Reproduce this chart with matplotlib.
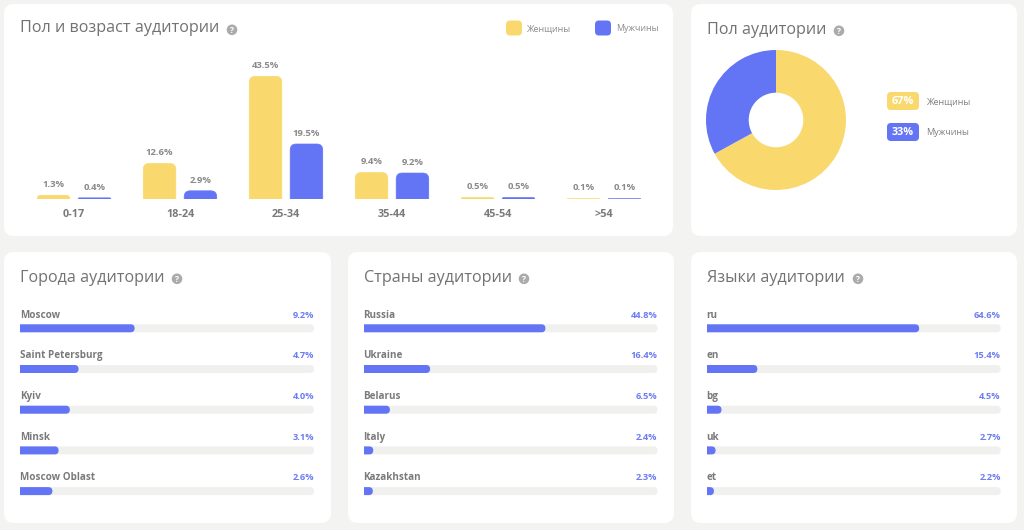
import matplotlib
matplotlib.use("Agg")
import matplotlib.pyplot as plt
from matplotlib.patches import FancyBboxPatch, Circle

plt.rcParams['font.family'] = ['Open Sans', 'DejaVu Sans']

# --- data ---
age_groups = ["0-17", "18-24", "25-34", "35-44", "45-54", ">54"]
women_pct = [1.3, 12.6, 43.5, 9.4, 0.5, 0.1]
men_pct = [0.4, 2.9, 19.5, 9.2, 0.5, 0.1]

gender_labels = ["Женщины", "Мужчины"]
gender_share = [67, 33]

cities = ["Moscow", "Saint Petersburg", "Kyiv", "Minsk", "Moscow Oblast"]
cities_pct = [9.2, 4.7, 4.0, 3.1, 2.6]

countries = ["Russia", "Ukraine", "Belarus", "Italy", "Kazakhstan"]
countries_pct = [44.8, 16.4, 6.5, 2.4, 2.3]

languages = ["ru", "en", "bg", "uk", "et"]
languages_pct = [64.6, 15.4, 4.5, 2.7, 2.2]

# --- style ---
W, H = 1024, 530
YELLOW = "#F9D96E"
BLUE = "#6374F5"
BG = "#F3F3F1"
TRACK = "#F0F0EE"
TITLE_C = "#727272"
LABEL_C = "#7A7A7A"

fig = plt.figure(figsize=(W / 100, H / 100), dpi=100)
fig.patch.set_facecolor(BG)

bg = fig.add_axes([0, 0, 1, 1])
bg.set_xlim(0, W)
bg.set_ylim(H, 0)
bg.axis("off")


def px_axes(x0, y0, x1, y1):
    # axes placed by pixel box (top-left origin)
    ax = fig.add_axes([x0 / W, 1 - y1 / H, (x1 - x0) / W, (y1 - y0) / H])
    ax.patch.set_alpha(0)
    return ax


def panel(x0, y0, x1, y1):
    bg.add_patch(FancyBboxPatch((x0, y0), x1 - x0, y1 - y0,
                                boxstyle="round,pad=0,rounding_size=10",
                                fc="white", ec="none"))


def title(x, y, text, qx):
    bg.text(x, y + 0.5, text, fontsize=11.6, color=TITLE_C, va="center", ha="left")
    bg.add_patch(Circle((qx, y + 1.8), 5.3, fc="#ABABAB", ec="none"))
    bg.text(qx, y + 2.1, "?", fontsize=6, color="white", fontweight="bold",
            ha="center", va="center")


def rounded_bars(ax, bars, r_px, px_x, px_y, horizontal=False):
    # swap each bar for a rounded one; the hidden end is pushed past the axis and clipped
    for b in bars:
        x, y, w, h = b.get_x(), b.get_y(), b.get_width(), b.get_height()
        b.remove()
        fc = b.get_facecolor()
        if horizontal:
            r = min(r_px, w * px_x) / px_x
            box = FancyBboxPatch((x - r, y), w + r, h,
                                 boxstyle=f"round,pad=0,rounding_size={r}",
                                 mutation_aspect=px_x / px_y,
                                 fc=fc, ec="none")
        else:
            r = min(r_px, h * px_y) / px_x
            ry = r * px_x / px_y
            box = FancyBboxPatch((x, y - ry), w, h + ry,
                                 boxstyle=f"round,pad=0,rounding_size={r}",
                                 mutation_aspect=px_x / px_y,
                                 fc=fc, ec=fc, lw=0.5)
        ax.add_patch(box)


# panels
panel(4, 4, 673, 236)
panel(691, 4, 1017, 236)
panel(4, 252, 331, 523)
panel(348, 252, 674, 523)
panel(691, 252, 1017, 523)

# --- age / gender bars ---
title(20, 28, "Пол и возраст аудитории", 232)
ax = px_axes(21, 58, 657, 199)
ymax = 50
ax.set_xlim(-0.5, len(age_groups) - 0.5)
ax.set_ylim(0, ymax)
px_x = (657 - 21) / len(age_groups)
px_y = (199 - 58) / ymax
xs = range(len(age_groups))
bw = 0.307
off = 0.193
wb = ax.bar([i - off for i in xs], women_pct, bw, color=YELLOW)
mb = ax.bar([i + off for i in xs], men_pct, bw, color=BLUE)
for bars, vals, sign in ((wb, women_pct, -1), (mb, men_pct, 1)):
    for i, v in enumerate(vals):
        ax.annotate(f"{v}%", (i + sign * off, v), xytext=(0, 4.5),
                    textcoords="offset points", ha="center", va="bottom",
                    fontsize=6.8, fontweight="bold", color="#8A8A8A")
rounded_bars(ax, list(wb) + list(mb), 6, px_x, px_y)
ax.set_xticks(list(xs))
ax.set_xticklabels(age_groups, fontsize=7.8, fontweight="bold", color=LABEL_C)
ax.tick_params(length=0, pad=7)
ax.set_yticks([])
for s in ax.spines.values():
    s.set_visible(False)

# legend
for lx, col, lab in ((506, YELLOW, gender_labels[0]), (595, BLUE, gender_labels[1])):
    bg.add_patch(FancyBboxPatch((lx, 20.5), 16, 15,
                                boxstyle="round,pad=0,rounding_size=4",
                                fc=col, ec="none"))
    bg.text(lx + 21, 28.5, lab, fontsize=6.4, color="#8A8A8A", va="center")

# --- donut ---
title(707, 29, "Пол аудитории", 839)
dax = px_axes(706, 50, 846, 190)
dax.pie(gender_share, colors=[YELLOW, BLUE], startangle=90, counterclock=False,
        radius=1, wedgeprops=dict(width=0.61, edgecolor="none"))
dax.set_xlim(-1, 1)
dax.set_ylim(-1, 1)
for k, (lab, share, col) in enumerate(zip(gender_labels, gender_share, [YELLOW, BLUE])):
    cy = 101 + 31 * k
    bg.add_patch(FancyBboxPatch((887, cy - 9), 32, 18,
                                boxstyle="round,pad=0,rounding_size=4",
                                fc=col, ec="none"))
    bg.text(903, cy + 0.5, f"{share}%", fontsize=7.8, fontweight="bold",
            color="white", ha="center", va="center")
    bg.text(926, cy + 0.5, lab, fontsize=6.5, color="#7E7E7E", va="center")


# --- top lists ---
def top_list(px0, names, vals, head, qx):
    title(px0 + 16, 277, head, qx)
    x0, x1 = px0 + 16, px0 + 16 + 294
    row = 40.7
    top = 328.3 - row * 0.5
    bot = 328.3 + row * (len(names) - 0.5)
    lax = px_axes(x0, top, x1, bot)
    lax.set_xlim(0, 1)
    lax.set_ylim(len(names) - 0.5, -0.5)
    lax.axis("off")
    total = sum(vals)
    fr = [v / total for v in vals]
    hh = 8 / row
    tr = lax.barh(range(len(names)), [1] * len(names), hh, color=TRACK)
    br = lax.barh(range(len(names)), fr, hh, color=BLUE)
    rounded_bars(lax, list(tr) + list(br), 4, 294, row, horizontal=True)
    for i, (n, v) in enumerate(zip(names, vals)):
        lax.annotate(n, (0, i), xytext=(0, 9.5), textcoords="offset points",
                     ha="left", va="center", fontsize=7.1, fontweight="bold",
                     color=LABEL_C)
        lax.annotate(f"{v}%", (1, i), xytext=(0, 9.5), textcoords="offset points",
                     ha="right", va="center", fontsize=6.7, fontweight="bold",
                     color="#6C7CF2")


top_list(4, cities, cities_pct, "Города аудитории", 177)
top_list(347.5, countries, countries_pct, "Страны аудитории", 524)
top_list(690.7, languages, languages_pct, "Языки аудитории", 858)

fig.savefig("out.png", dpi=100, facecolor=BG)
